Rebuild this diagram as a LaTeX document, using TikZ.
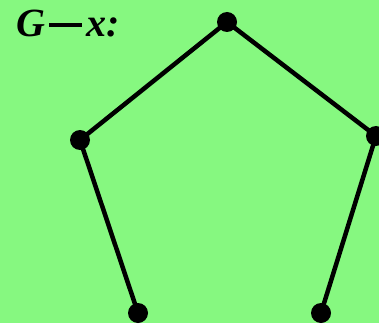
\documentclass[tikz,border=0pt]{standalone}
\usepackage{fontspec}
\setmainfont{Liberation Serif}
\definecolor{bggreen}{RGB}{134,248,128}
\tikzset{
  vtx/.style={circle,fill=black,inner sep=0pt,minimum size=20pt},
  edge/.style={line width=4.5pt,black}
}
\begin{document}
\begin{tikzpicture}[x=1pt,y=-1pt]
\fill[bggreen] (0,0) rectangle (379,323);
\useasboundingbox (0,0) rectangle (379,323);
\node[anchor=base west,inner sep=0pt,font=\fontsize{40}{44}\selectfont\bfseries\itshape] (lbl) at (16,37) {G\hspace{4pt}\rule[10pt]{33pt}{4pt}\hspace{4pt}x:};
\node[vtx] (t) at (227,22) {};
\node[vtx] (l) at (80,140) {};
\node[vtx] (r) at (376,136) {};
\node[vtx] (bl) at (138,313) {};
\node[vtx] (br) at (321,313) {};
\draw[edge] (t.center) -- (l.center);
\draw[edge] (t.center) -- (r.center);
\draw[edge] (l.center) -- (bl.center);
\draw[edge] (r.center) -- (br.center);
\end{tikzpicture}
\end{document}
